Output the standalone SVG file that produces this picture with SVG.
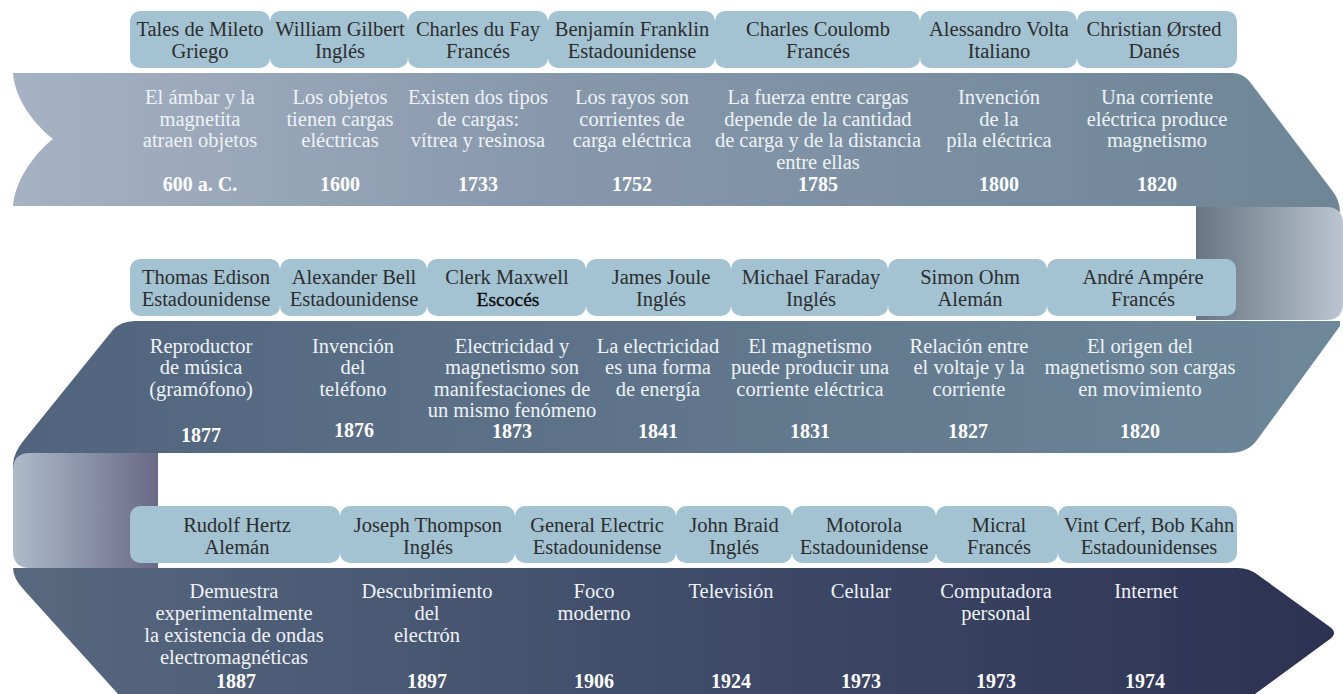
<svg xmlns="http://www.w3.org/2000/svg" width="1343" height="694" viewBox="0 0 1343 694">
  <defs>
    <linearGradient id="gBand1" x1="13" y1="0" x2="1340" y2="0" gradientUnits="userSpaceOnUse">
      <stop offset="0" stop-color="#A5B2C3"/>
      <stop offset="0.4" stop-color="#8898AC"/>
      <stop offset="1" stop-color="#6D8596"/>
    </linearGradient>
    <linearGradient id="gBand2" x1="13" y1="0" x2="1340" y2="0" gradientUnits="userSpaceOnUse">
      <stop offset="0" stop-color="#51637D"/>
      <stop offset="1" stop-color="#6E8799"/>
    </linearGradient>
    <linearGradient id="gBand3" x1="13" y1="0" x2="1340" y2="0" gradientUnits="userSpaceOnUse">
      <stop offset="0" stop-color="#58687F"/>
      <stop offset="0.45" stop-color="#414F6C"/>
      <stop offset="1" stop-color="#2D3152"/>
    </linearGradient>
    <linearGradient id="gFold1" x1="1196" y1="0" x2="1343" y2="0" gradientUnits="userSpaceOnUse">
      <stop offset="0" stop-color="#687481"/>
      <stop offset="1" stop-color="#BAC5D1"/>
    </linearGradient>
    <linearGradient id="gFold2" x1="13" y1="0" x2="158" y2="0" gradientUnits="userSpaceOnUse">
      <stop offset="0" stop-color="#ADBBCA"/>
      <stop offset="1" stop-color="#6A6987"/>
    </linearGradient>
    <style>
      .box { fill: #A3C3D3; }
      .name, .desc, .year { font-family: "Liberation Serif", "Times New Roman", serif; font-size: 20.5px; text-anchor: middle; }
      .name { fill: #2D2D2D; }
      .desc { fill: #EEF2F5; }
      .year { fill: #FFFFFF; font-weight: bold; font-size: 20px; }
      .nat2 { fill: #0A0A0A; font-size: 19.5px; stroke: #0A0A0A; stroke-width: 0.35px; }
    </style>
  </defs>

  <!-- folded ribbon carrying the timeline -->
  <g id="ribbon">
    <!-- band 1: swallow-tail start, runs right -->
    <path fill="url(#gBand1)" d="M13,73 L1232,73 Q1243,73 1250,82 L1331,189 Q1340,200 1340,212 L1196,212 L1196,206 L13,206 C15,180 35,153 53,139 C35,125 15,100 13,73 Z"/>
    <!-- band 2: runs back to the left -->
    <path fill="url(#gBand2)" d="M1340,321 L1340,326 L1257,440 Q1248,453 1228,453 L158,453 L158,480 L13,480 L13,464 Q14,452 24,440 L112,331 Q120,321 135,321 Z"/>
    <!-- band 3: ends in an arrow point -->
    <path fill="url(#gBand3)" d="M13,568 L1238,568 Q1249,568 1258,575 L1330,627 Q1338,633 1330,639 L1255,694 L118,694 L24,590 Q13,578 13,568 Z"/>
    <!-- folds between bands -->
    <path fill="url(#gFold1)" d="M1196,207 L1326,207 Q1343,207 1343,224 L1343,303 Q1343,320 1326,320 L1196,320 Z"/>
    <path fill="url(#gFold2)" d="M158,453 L30,453 Q13,453 13,470 L13,551 Q13,568 30,568 L158,568 Z"/>
  </g>

  <!-- row 1 -->
  <g id="tales">
    <rect class="box" x="130" y="11" width="140" height="57" rx="10"/>
    <text class="name" x="200" y="35.5">Tales de Mileto</text>
    <text class="name" x="200" y="57.5">Griego</text>
    <text class="desc" x="200" y="104">El ámbar y la</text>
    <text class="desc" x="200" y="125.5">magnetita</text>
    <text class="desc" x="200" y="147">atraen objetos</text>
    <text class="year" x="200" y="190.5">600 a. C.</text>
  </g>
  <g id="gilbert">
    <rect class="box" x="270" y="11" width="138" height="57" rx="10"/>
    <text class="name" x="340" y="35.5">William Gilbert</text>
    <text class="name" x="340" y="57.5">Inglés</text>
    <text class="desc" x="340" y="104">Los objetos</text>
    <text class="desc" x="340" y="125.5">tienen cargas</text>
    <text class="desc" x="340" y="147">eléctricas</text>
    <text class="year" x="340" y="190.5">1600</text>
  </g>
  <g id="dufay">
    <rect class="box" x="408" y="11" width="140" height="57" rx="10"/>
    <text class="name" x="478" y="35.5">Charles du Fay</text>
    <text class="name" x="478" y="57.5">Francés</text>
    <text class="desc" x="478" y="104">Existen dos tipos</text>
    <text class="desc" x="478" y="125.5">de cargas:</text>
    <text class="desc" x="478" y="147">vítrea y resinosa</text>
    <text class="year" x="478" y="190.5">1733</text>
  </g>
  <g id="franklin">
    <rect class="box" x="548" y="11" width="167" height="57" rx="10"/>
    <text class="name" x="632" y="35.5">Benjamín Franklin</text>
    <text class="name" x="632" y="57.5">Estadounidense</text>
    <text class="desc" x="632" y="104">Los rayos son</text>
    <text class="desc" x="632" y="125.5">corrientes de</text>
    <text class="desc" x="632" y="147">carga eléctrica</text>
    <text class="year" x="632" y="190.5">1752</text>
  </g>
  <g id="coulomb">
    <rect class="box" x="715" y="11" width="205" height="57" rx="10"/>
    <text class="name" x="818" y="35.5">Charles Coulomb</text>
    <text class="name" x="818" y="57.5">Francés</text>
    <text class="desc" x="818" y="104">La fuerza entre cargas</text>
    <text class="desc" x="818" y="125.5">depende de la cantidad</text>
    <text class="desc" x="818" y="147">de carga y de la distancia</text>
    <text class="desc" x="818" y="168.5">entre ellas</text>
    <text class="year" x="818" y="190.5">1785</text>
  </g>
  <g id="volta">
    <rect class="box" x="920" y="11" width="157" height="57" rx="10"/>
    <text class="name" x="999" y="35.5">Alessandro Volta</text>
    <text class="name" x="999" y="57.5">Italiano</text>
    <text class="desc" x="999" y="104">Invención</text>
    <text class="desc" x="999" y="125.5">de la</text>
    <text class="desc" x="999" y="147">pila eléctrica</text>
    <text class="year" x="999" y="190.5">1800</text>
  </g>
  <g id="orsted">
    <rect class="box" x="1077" y="11" width="160" height="57" rx="10"/>
    <text class="name" x="1154" y="35.5">Christian Ørsted</text>
    <text class="name" x="1154" y="57.5">Danés</text>
    <text class="desc" x="1157" y="104">Una corriente</text>
    <text class="desc" x="1157" y="125.5">eléctrica produce</text>
    <text class="desc" x="1157" y="147">magnetismo</text>
    <text class="year" x="1157" y="190.5">1820</text>
  </g>

  <!-- row 2 -->
  <g id="edison">
    <rect class="box" x="130" y="259" width="150" height="57" rx="10"/>
    <text class="name" x="206" y="283.5">Thomas Edison</text>
    <text class="name" x="206" y="305.5">Estadounidense</text>
    <text class="desc" x="201" y="352.5">Reproductor</text>
    <text class="desc" x="201" y="374">de música</text>
    <text class="desc" x="201" y="395.5">(gramófono)</text>
    <text class="year" x="201" y="442">1877</text>
  </g>
  <g id="bell">
    <rect class="box" x="280" y="259" width="147" height="57" rx="10"/>
    <text class="name" x="354" y="283.5">Alexander Bell</text>
    <text class="name" x="354" y="305.5">Estadounidense</text>
    <text class="desc" x="353" y="352.5">Invención</text>
    <text class="desc" x="353" y="374">del</text>
    <text class="desc" x="353" y="395.5">teléfono</text>
    <text class="year" x="354" y="437">1876</text>
  </g>
  <g id="maxwell">
    <rect class="box" x="427" y="259" width="159" height="57" rx="10"/>
    <text class="name" x="507" y="283.5">Clerk Maxwell</text>
    <text class="name nat2" x="508" y="305.5">Escocés</text>
    <text class="desc" x="512" y="352.5">Electricidad y</text>
    <text class="desc" x="512" y="374">magnetismo son</text>
    <text class="desc" x="512" y="395.5">manifestaciones de</text>
    <text class="desc" x="512" y="417">un mismo fenómeno</text>
    <text class="year" x="512" y="437.5">1873</text>
  </g>
  <g id="joule">
    <rect class="box" x="586" y="259" width="145" height="57" rx="10"/>
    <text class="name" x="661" y="283.5">James Joule</text>
    <text class="name" x="661" y="305.5">Inglés</text>
    <text class="desc" x="658" y="352.5">La electricidad</text>
    <text class="desc" x="658" y="374">es una forma</text>
    <text class="desc" x="658" y="395.5">de energía</text>
    <text class="year" x="658" y="437.5">1841</text>
  </g>
  <g id="faraday">
    <rect class="box" x="731" y="259" width="157" height="57" rx="10"/>
    <text class="name" x="811" y="283.5">Michael Faraday</text>
    <text class="name" x="811" y="305.5">Inglés</text>
    <text class="desc" x="810" y="352.5">El magnetismo</text>
    <text class="desc" x="810" y="374">puede producir una</text>
    <text class="desc" x="810" y="395.5">corriente eléctrica</text>
    <text class="year" x="810" y="437.5">1831</text>
  </g>
  <g id="ohm">
    <rect class="box" x="888" y="259" width="159" height="57" rx="10"/>
    <text class="name" x="970" y="283.5">Simon Ohm</text>
    <text class="name" x="970" y="305.5">Alemán</text>
    <text class="desc" x="969" y="352.5">Relación entre</text>
    <text class="desc" x="969" y="374">el voltaje y la</text>
    <text class="desc" x="969" y="395.5">corriente</text>
    <text class="year" x="968" y="437.5">1827</text>
  </g>
  <g id="ampere">
    <rect class="box" x="1047" y="259" width="189" height="57" rx="10"/>
    <text class="name" x="1143" y="283.5">André Ampére</text>
    <text class="name" x="1143" y="305.5">Francés</text>
    <text class="desc" x="1140" y="352.5">El origen del</text>
    <text class="desc" x="1140" y="374">magnetismo son cargas</text>
    <text class="desc" x="1140" y="395.5">en movimiento</text>
    <text class="year" x="1140" y="437.5">1820</text>
  </g>

  <!-- row 3 -->
  <g id="hertz">
    <rect class="box" x="130" y="506" width="210" height="57" rx="10"/>
    <text class="name" x="237" y="531.5">Rudolf Hertz</text>
    <text class="name" x="237" y="553.5">Alemán</text>
    <text class="desc" x="234" y="597.5">Demuestra</text>
    <text class="desc" x="234" y="619.5">experimentalmente</text>
    <text class="desc" x="234" y="641.5">la existencia de ondas</text>
    <text class="desc" x="234" y="663.5">electromagnéticas</text>
    <text class="year" x="236" y="687.5">1887</text>
  </g>
  <g id="thompson">
    <rect class="box" x="340" y="506" width="175" height="57" rx="10"/>
    <text class="name" x="428" y="531.5">Joseph Thompson</text>
    <text class="name" x="428" y="553.5">Inglés</text>
    <text class="desc" x="427" y="597.5">Descubrimiento</text>
    <text class="desc" x="427" y="619.5">del</text>
    <text class="desc" x="427" y="641.5">electrón</text>
    <text class="year" x="427" y="687.5">1897</text>
  </g>
  <g id="ge">
    <rect class="box" x="515" y="506" width="161" height="57" rx="10"/>
    <text class="name" x="597" y="531.5">General Electric</text>
    <text class="name" x="597" y="553.5">Estadounidense</text>
    <text class="desc" x="594" y="597.5">Foco</text>
    <text class="desc" x="594" y="619.5">moderno</text>
    <text class="year" x="594" y="687.5">1906</text>
  </g>
  <g id="baird">
    <rect class="box" x="676" y="506" width="116" height="57" rx="10"/>
    <text class="name" x="734" y="531.5">John Braid</text>
    <text class="name" x="734" y="553.5">Inglés</text>
    <text class="desc" x="731" y="597.5">Televisión</text>
    <text class="year" x="731" y="687.5">1924</text>
  </g>
  <g id="motorola">
    <rect class="box" x="792" y="506" width="144" height="57" rx="10"/>
    <text class="name" x="864" y="531.5">Motorola</text>
    <text class="name" x="864" y="553.5">Estadounidense</text>
    <text class="desc" x="861" y="597.5">Celular</text>
    <text class="year" x="861" y="687.5">1973</text>
  </g>
  <g id="micral">
    <rect class="box" x="936" y="506" width="122" height="57" rx="10"/>
    <text class="name" x="999" y="531.5">Micral</text>
    <text class="name" x="999" y="553.5">Francés</text>
    <text class="desc" x="996" y="597.5">Computadora</text>
    <text class="desc" x="996" y="619.5">personal</text>
    <text class="year" x="996" y="687.5">1973</text>
  </g>
  <g id="internet">
    <rect class="box" x="1058" y="506" width="179" height="57" rx="10"/>
    <text class="name" x="1149" y="531.5">Vint Cerf, Bob Kahn</text>
    <text class="name" x="1149" y="553.5">Estadounidenses</text>
    <text class="desc" x="1146" y="597.5">Internet</text>
    <text class="year" x="1145" y="687.5">1974</text>
  </g>
</svg>
